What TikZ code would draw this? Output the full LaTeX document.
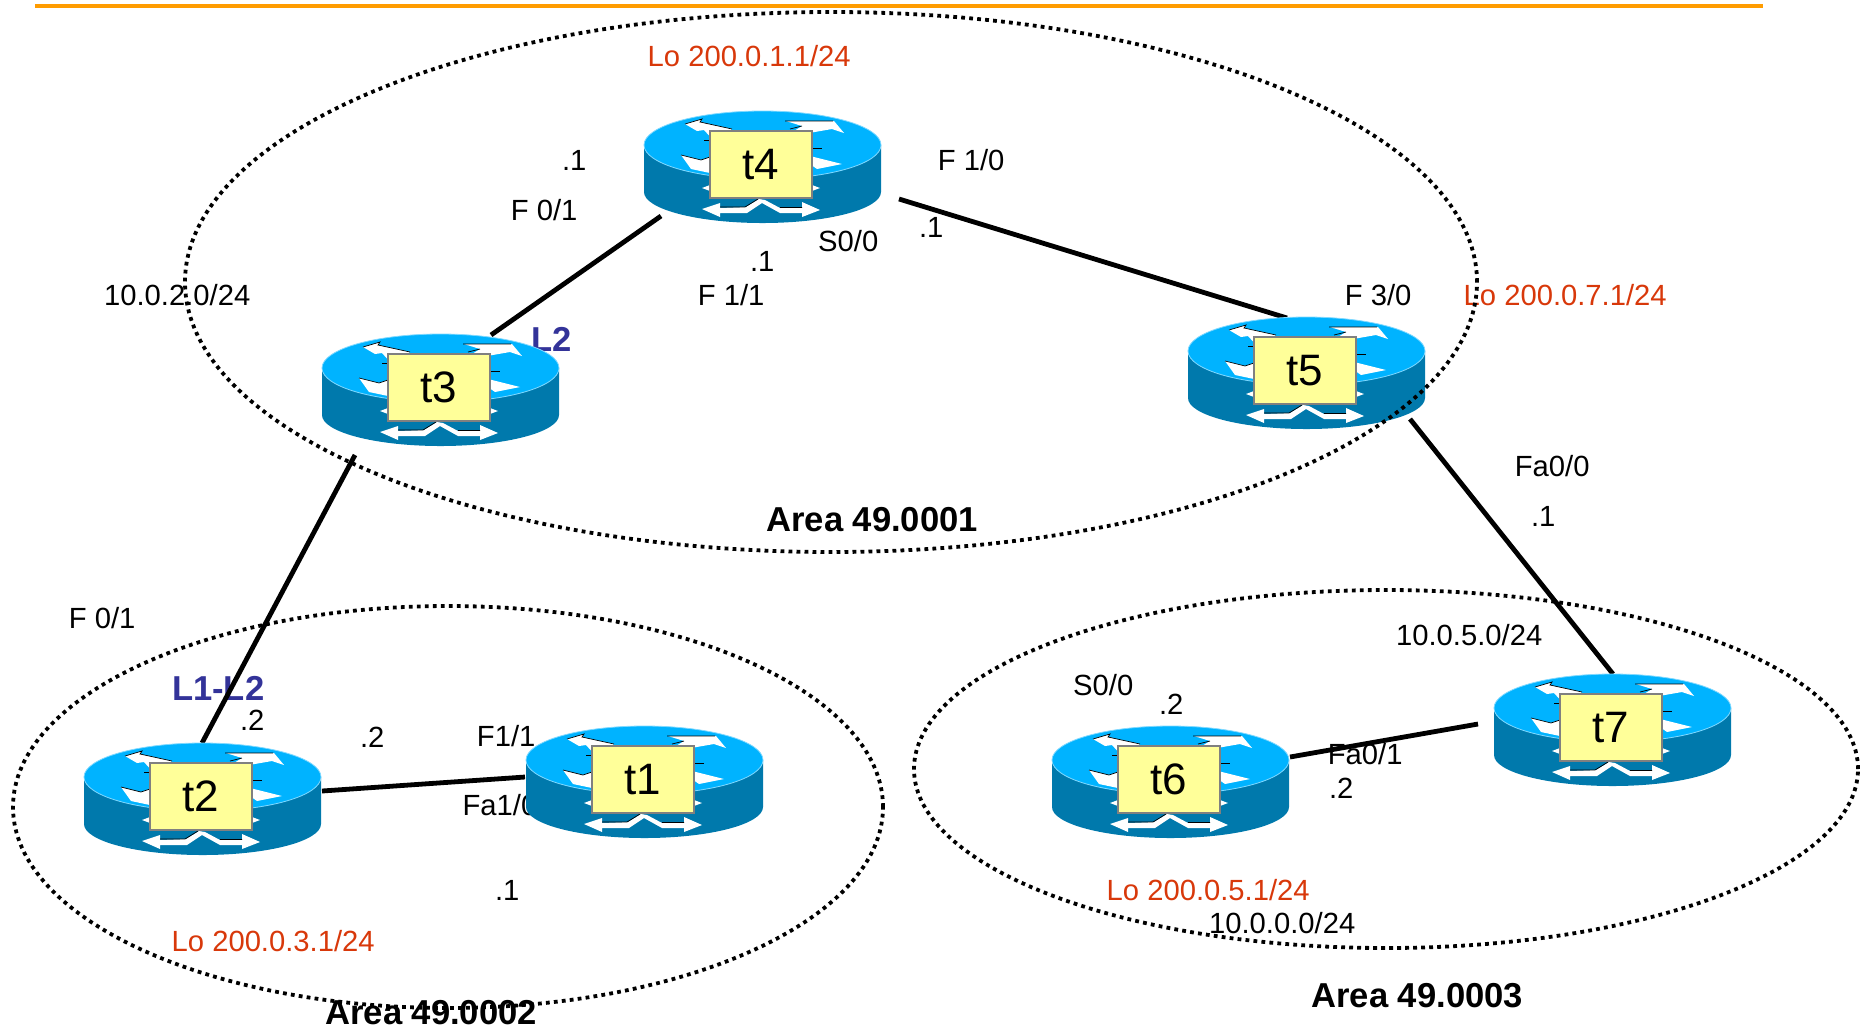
\documentclass[tikz,border=0pt]{standalone}
\usepackage{fontspec}
\setmainfont{Liberation Sans}
\definecolor{rtop}{HTML}{00B3FF}
\definecolor{rside}{HTML}{0079AC}
\definecolor{rbox}{HTML}{FFFF99}
\definecolor{lored}{HTML}{D8380A}
\definecolor{lvl}{HTML}{333399}
\definecolor{rule}{HTML}{FF9C00}
\tikzset{
  lab/.style={inner sep=0pt,xshift=0.1pt,yshift=-0.2pt,font=\fontsize{14.6}{16}\selectfont,text=black},
  lo/.style={lab,text=lored},
  area/.style={inner sep=0pt,xshift=0.1pt,yshift=-0.2pt,font=\fontsize{17.3}{19}\selectfont\bfseries,text=black},
  lvltxt/.style={inner sep=0pt,xshift=0.1pt,yshift=-0.2pt,font=\fontsize{17.3}{19}\selectfont\bfseries,text=lvl},
  zone/.style={draw=black,line width=1.9pt,dash pattern=on 1.9pt off 2.1pt},
  link/.style={draw=black,line width=2.4pt},
  tagbox/.style={draw=black!50,line width=1pt,fill=rbox,minimum width=51pt,minimum height=33.5pt,inner sep=0pt,font=\fontsize{22}{24}\selectfont},
  arrowwhite/.style={fill=white,draw=none},
  arrowedge/.style={draw=black,line width=0.35pt}
}
\newcommand{\routericon}[3]{%
\begin{scope}[shift={(#1,#2)}]
  \fill[rside] (0,34) -- (0,81) .. controls (0,98) and (53,112) .. (118.5,112) .. controls (184,112) and (237,98) .. (237,81) -- (237,34) -- cycle;
  \fill[rtop,draw=rtop!50!white,line width=0.4pt] (118.5,34) ellipse [x radius=59.25pt,y radius=17pt];
  % top left arrow
  \fill[arrowwhite] (41,13) -- (58,8) -- (56,11) -- (88,18) -- (70,30) -- (60,19) -- (53,20) -- cycle;
  \draw[arrowedge] (41,13) -- (58,8) -- (56,11) -- (88,18);
  % top right arrow
  \fill[arrowwhite] (142,10) -- (190,10) -- (200,22) -- (188,18) -- (165,22) -- (150,20) -- (158,15) -- cycle;
  \draw[arrowedge] (141,10) -- (189,10) (146,18) -- (158,15);
  % lower left arrow
  \fill[arrowwhite] (37,44) -- (57,49) -- (66,46) -- (66,62) -- (47,58) -- cycle;
  \draw[arrowedge] (37,44) -- (57,49) -- (66,46);
  \draw[arrowedge] (60,29) -- (68,29);
  % lower right arrow
  \fill[arrowwhite] (166,45) -- (198,53) -- (173,58) -- (166,53) -- cycle;
  \draw[arrowedge] (166,37) -- (178,37);
  % small side bits
  \fill[arrowwhite] (58,77) -- (66,74) -- (66,80) -- cycle;
  \fill[arrowwhite] (168,74) -- (176,77) -- (168,80) -- cycle;
  % bottom double arrow
  \fill[arrowwhite] (58,98) -- (76,92) -- (76,97) -- (102,96) -- (115,88) -- (121,89) -- (136,97) -- (158,97) -- (158,91) -- (176,99) -- (158,106) -- (158,102) -- (136,102) -- (118,92) -- (103,102) -- (76,102) -- (76,106) -- cycle;
  \draw[arrowedge] (76,96) -- (101,96) -- (114,88) (136,96.5) -- (158,96.5);
  \node[tagbox] (#3) at (117,53.5) {#3};
\end{scope}}
\begin{document}
\begin{tikzpicture}[x=0.5pt,y=-0.5pt]
\useasboundingbox (0,0) rectangle (1868,1030);
% free ends of connectors
\coordinate (t3a) at (491,335); \coordinate (t4a) at (661,216);
\coordinate (t4b) at (899,199); \coordinate (t5a) at (1287,318);
\coordinate (t3b) at (355,455); \coordinate (t2a) at (202,743);
\coordinate (t2b) at (322,791); \coordinate (t1a) at (525,777);
\coordinate (t5b) at (1410,419); \coordinate (t7a) at (1613,674);
\coordinate (t6a) at (1290,757); \coordinate (t7b) at (1478,724);
\coordinate (ruleL) at (35,6); \coordinate (ruleR) at (1763,6);
\draw[rule,line width=2pt] (ruleL) -- (ruleR);
% labels
\node[lo] (n1) at (749,56) {Lo 200.0.1.1/24};
\node[lab] (n2) at (574,160) {.1};
\node[lab] (n3) at (544,210) {F 0/1};
\node[lab] (n4) at (762,261) {.1};
\node[lab] (n5) at (848,241) {S0/0};
\node[lab] (n6) at (731,295) {F 1/1};
\node[lab] (n7) at (971,160) {F 1/0};
\node[lab] (n8) at (931,227) {.1};
\node[lab] (n9) at (177,295) {10.0.2.0/24};
\node[lvltxt] (n10) at (551,339) {L2};
\node[lab] (n11) at (1378,295) {F 3/0};
\node[lo] (n12) at (1565,295) {Lo 200.0.7.1/24};
\node[lab] (n13) at (1552,466) {Fa0/0};
\node[lab] (n14) at (1543,516) {.1};
\node[area] (n15) at (872,519) {Area 49.0001};
\node[lab] (n16) at (102,618) {F 0/1};
\node[lvltxt] (n17) at (218,688) {L1-L2};
\node[lab] (n18) at (252,720) {.2};
\node[lab] (n19) at (372,737) {.2};
\node[lab] (n20) at (506,736) {F1/1};
\node[lab,anchor=west] (n21) at (462,805) {Fa1/0};
\node[lab] (n22) at (507,890) {.1};
\node[lo] (n23) at (273,941) {Lo 200.0.3.1/24};
\node[area] (n24) at (431,1012) {Area 49.0002};
\node[lab] (n25) at (1469,635) {10.0.5.0/24};
\node[lab] (n26) at (1103,685) {S0/0};
\node[lab] (n27) at (1171,704) {.2};
\node[lab] (n28) at (1365,754) {Fa0/1};
\node[lab] (n29) at (1341,788) {.2};
\node[lo] (n30) at (1208,890) {Lo 200.0.5.1/24};
\node[lab] (n31) at (1282,923) {10.0.0.0/24};
\node[area] (n32) at (1417,995) {Area 49.0003};
% connectors
\draw[link] (t3a) -- (t4a);
\draw[link] (t4b) -- (t5a);
\draw[link] (t3b) -- (t2a);
\draw[link] (t2b) -- (t1a);
\draw[link] (t5b) -- (t7a);
\draw[link] (t6a) -- (t7b);
% routers
\routericon{322}{334}{t3}
\routericon{644}{111}{t4}
\routericon{1188}{317}{t5}
\routericon{84}{743}{t2}
\routericon{526}{726}{t1}
\routericon{1052}{726}{t6}
\routericon{1494}{674}{t7}
% areas
\draw[zone] (831,282) ellipse [x radius=323pt,y radius=135pt];
\draw[zone] (448,807) ellipse [x radius=217.5pt,y radius=100.5pt];
\draw[zone] (1386,769) ellipse [x radius=236pt,y radius=89.5pt];
\end{tikzpicture}
\end{document}
